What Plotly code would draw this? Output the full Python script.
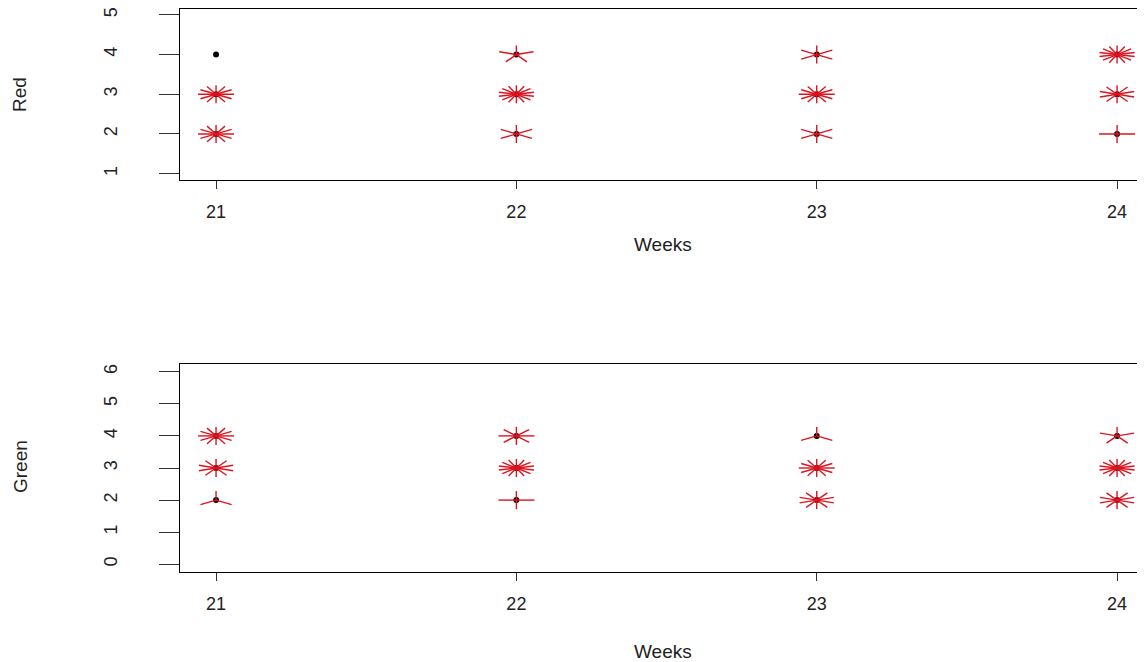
import math
import plotly.graph_objects as go
from plotly.subplots import make_subplots

# ---- data (sunflower counts) ----
weeks = [21, 22, 23, 24]
red_week = [21, 21, 21, 22, 22, 22, 23, 23, 23, 24, 24, 24]
red_value = [4, 3, 2, 4, 3, 2, 4, 3, 2, 4, 3, 2]
red_count = [1, 12, 12, 5, 14, 6, 6, 12, 6, 14, 10, 4]

green_week = [21, 21, 21, 22, 22, 22, 23, 23, 23, 24, 24, 24]
green_value = [4, 3, 2, 4, 3, 2, 4, 3, 2, 4, 3, 2]
green_count = [12, 10, 3, 8, 14, 4, 3, 12, 10, 5, 14, 10]

red_yticks = [1, 2, 3, 4, 5]
green_yticks = [0, 1, 2, 3, 4, 5, 6]

# page has an 8px body margin, so the figure is 8px smaller and shifted
OFF = 8
W, H = 1145 - OFF, 662 - OFF
ML = 180 - OFF
XR = [20.88, 24.093]
RED_YR = [0.84, 5.16]
GREEN_YR = [-0.24, 6.24]
RED_DOM = [1 - (180 - OFF) / H, 1 - (8.5 - OFF) / H]
GREEN_DOM = [1 - (572 - OFF) / H, 1 - (364 - OFF) / H]

PETAL_PX_X = 18.0
PETAL_PX_Y = 9.0
SEG_COL = "#DC1420"
FONT = "Liberation Sans, Arial, sans-serif"
TXT = "#222222"


def petals(xs, ys, ns, yrange, ydom):
    px_per_x = (W - ML) / (XR[1] - XR[0])
    px_per_y = (ydom[1] - ydom[0]) * H / (yrange[1] - yrange[0])
    xr = PETAL_PX_X / px_per_x
    yr = PETAL_PX_Y / px_per_y
    lx, ly = [], []
    for x, y, n in zip(xs, ys, ns):
        if n < 2:
            continue
        for k in range(1, n + 1):
            d = 2 * math.pi * k / n
            lx += [x, x + xr * math.sin(d), None]
            ly += [y, y + yr * math.cos(d), None]
    return lx, ly


fig = make_subplots(rows=2, cols=1)

for row, (xs, ys, ns, yrng, dom) in enumerate(
    [(red_week, red_value, red_count, RED_YR, RED_DOM),
     (green_week, green_value, green_count, GREEN_YR, GREEN_DOM)], start=1):
    fig.add_trace(go.Scatter(x=xs, y=ys, mode="markers",
                             marker=dict(color="black", size=6, symbol="circle"),
                             showlegend=False, hoverinfo="skip"), row=row, col=1)
    lx, ly = petals(xs, ys, ns, yrng, dom)
    fig.add_trace(go.Scatter(x=lx, y=ly, mode="lines",
                             line=dict(color=SEG_COL, width=1.4),
                             showlegend=False, hoverinfo="skip"), row=row, col=1)

xa = dict(range=XR, tickvals=weeks, ticks="outside", ticklen=8, tickcolor="#333",
          showline=True, linecolor="black", linewidth=1, mirror=True,
          showgrid=False, zeroline=False, ticklabelstandoff=7,
          ticklabeloverflow="allow",
          tickfont=dict(family=FONT, size=18, color=TXT), domain=[0, 1])
fig.update_layout(xaxis=xa, xaxis2=xa)

ya = dict(ticks="outside", ticklen=20, tickcolor="#333", tickangle=-90,
          showline=True, linecolor="black", linewidth=1, mirror=False,
          showgrid=False, zeroline=False, ticklabelstandoff=35,
          ticklabeloverflow="allow",
          tickfont=dict(family=FONT, size=18, color=TXT))
fig.update_layout(
    yaxis=dict(ya, range=RED_YR, tickvals=red_yticks, domain=RED_DOM),
    yaxis2=dict(ya, range=GREEN_YR, tickvals=green_yticks, domain=GREEN_DOM),
)

ann = [
    dict(text="Weeks", x=0.5, y=1 - (244 - OFF) / H),
    dict(text="Weeks", x=0.5, y=1 - (651 - OFF) / H),
    dict(text="Red", x=(20 - 180) / (W - ML), y=1 - (95 - OFF) / H, textangle=-90),
    dict(text="Green", x=(20 - 180) / (W - ML), y=1 - (467 - OFF) / H, textangle=-90),
]
for a in ann:
    fig.add_annotation(xref="paper", yref="paper", showarrow=False,
                       xanchor="center", yanchor="middle",
                       font=dict(family=FONT, size=19, color=TXT), **a)

fig.update_layout(width=W, height=H, margin=dict(l=ML, r=0, t=0, b=0),
                  plot_bgcolor="white", paper_bgcolor="white")

fig.write_html("out.html")
